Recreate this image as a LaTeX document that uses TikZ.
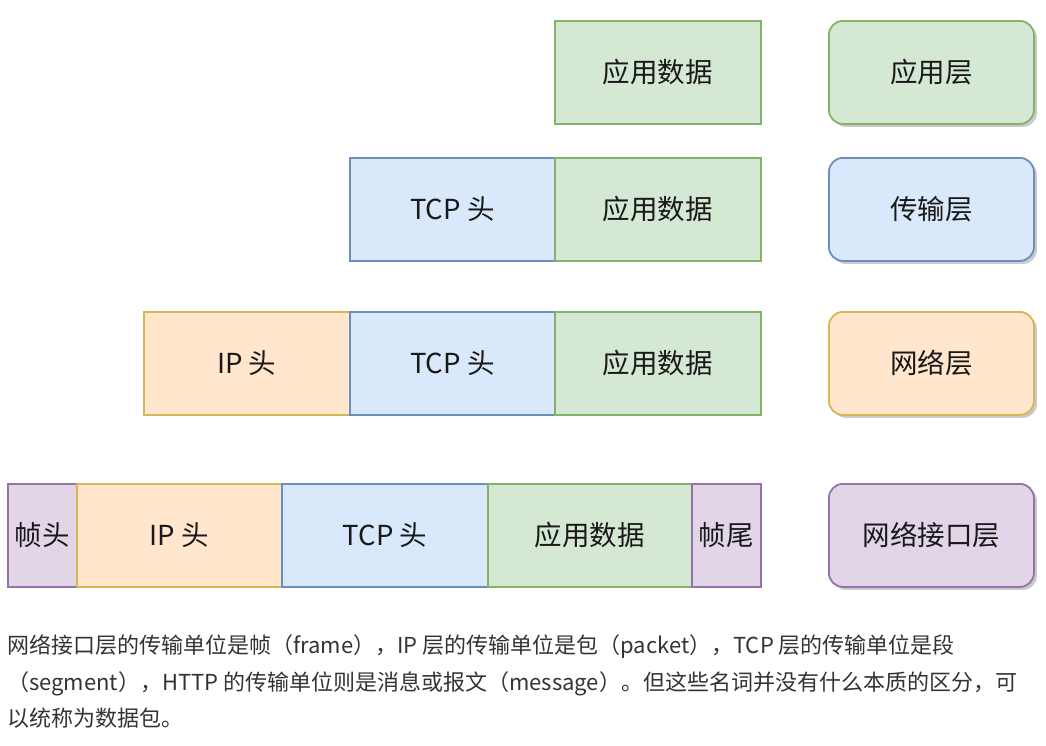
\documentclass[tikz,border=0pt]{standalone}
\usepackage{fontspec}
\setmainfont{Noto Sans CJK SC}
\usetikzlibrary{shadows}
\definecolor{gfill}{HTML}{D5E8D4}\definecolor{gline}{HTML}{82B366}
\definecolor{bfill}{HTML}{DAE8FC}\definecolor{bline}{HTML}{6C8EBF}
\definecolor{ofill}{HTML}{FFE6CC}\definecolor{oline}{HTML}{D6B656}
\definecolor{pfill}{HTML}{E1D5E7}\definecolor{pline}{HTML}{9673A6}
\definecolor{txt}{HTML}{333333}
\tikzset{
  cell/.style={draw, line width=1.8pt, anchor=north west, minimum height=103pt,
    inner sep=0pt, text=black!90, font=\fontsize{27.5}{27.5}\selectfont},
  appcell/.style={cell, fill=gfill, draw=gline},
  tcpcell/.style={cell, fill=bfill, draw=bline},
  ipcell/.style={cell, fill=ofill, draw=oline},
  framecell/.style={cell, fill=pfill, draw=pline},
  layer/.style={cell, rounded corners=14pt, minimum width=205pt,
    drop shadow={shadow xshift=3pt, shadow yshift=-3pt, opacity=0.35, fill=black!60}},
  note/.style={anchor=base west, inner sep=0pt, text=txt, font=\fontsize{22}{22}\selectfont}
}
\begin{document}
\begin{tikzpicture}[x=1pt,y=-1pt]
\useasboundingbox (0,0) rectangle (1046,745);
% application layer
\node[appcell, minimum width=206pt] (a1) at (554,20) {应用数据};
% transport layer
\node[tcpcell, minimum width=205pt] (t2) at (349,157) {TCP 头};
\node[appcell, minimum width=206pt] (a2) at (554,157) {应用数据};
% network layer
\node[ipcell, minimum width=206pt] (i3) at (143,311) {IP 头};
\node[tcpcell, minimum width=205pt] (t3) at (349,311) {TCP 头};
\node[appcell, minimum width=206pt] (a3) at (554,311) {应用数据};
% link layer
\node[framecell, minimum width=69pt] (h4) at (7,483) {帧头};
\node[ipcell, minimum width=205pt] (i4) at (76,483) {IP 头};
\node[tcpcell, minimum width=206pt] (t4) at (281,483) {TCP 头};
\node[appcell, minimum width=204pt] (a4) at (487,483) {应用数据};
\node[framecell, minimum width=69pt] (e4) at (691,483) {帧尾};
% layer labels
\node[layer, fill=gfill, draw=gline] (L1) at (828,20) {应用层};
\node[layer, fill=bfill, draw=bline] (L2) at (828,157) {传输层};
\node[layer, fill=ofill, draw=oline] (L3) at (828,311) {网络层};
\node[layer, fill=pfill, draw=pline] (L4) at (828,483) {网络接口层};
% caption
\node[note] (n1) at (7,653) {网络接口层的传输单位是帧（frame），IP 层的传输单位是包（packet），TCP 层的传输单位是段};
\node[note] (n2) at (7,690) {（segment），HTTP 的传输单位则是消息或报文（message）。但这些名词并没有什么本质的区分，可};
\node[note] (n3) at (7,726) {以统称为数据包。};
\end{tikzpicture}
\end{document}
